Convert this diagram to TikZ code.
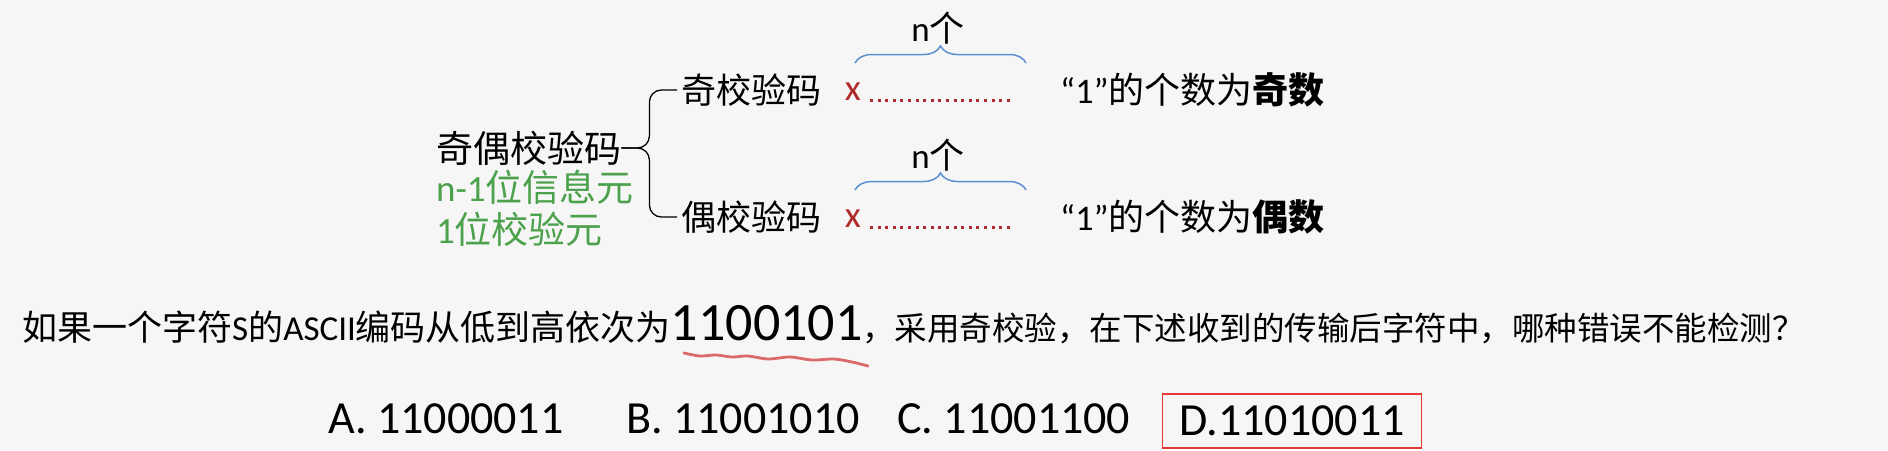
\documentclass[tikz,border=0pt]{standalone}
\usepackage{fontspec}
\setmainfont{Noto Sans CJK SC}
\newfontfamily\lat{Carlito}
\usetikzlibrary{positioning,decorations.pathreplacing}
\definecolor{bggray}{HTML}{F6F6F6}
\definecolor{infogreen}{HTML}{4CA24C}
\definecolor{darkred}{HTML}{B02A2A}
\definecolor{braceblue}{HTML}{5B8FCF}
\definecolor{boxred}{HTML}{E53935}
\definecolor{penred}{HTML}{DB6B69}

\begin{document}
\begin{tikzpicture}[x=1pt,y=1pt]
    \tikzstyle{every node}=[inner sep=0,anchor=west,font=\fontsize{35}{40}\selectfont]
    \tikzstyle{big}=[font=\fontsize{37}{42}\selectfont]
    \tikzstyle{info}=[big,text=infogreen]
    \tikzstyle{redx}=[text=darkred,anchor=center,font=\lat\fontsize{37}{40}\selectfont]
    \tikzstyle{dots}=[draw=darkred,line width=3pt,dash pattern=on 3pt off 4.6pt]
    \tikzstyle{nbrace}=[draw=braceblue,line width=1.5pt,decorate,decoration={brace,amplitude=17pt}]
    \tikzstyle{bbrace}=[draw=black,line width=1.3pt,rounded corners=12,shorten >=4pt]
    \tikzstyle{opt}=[font=\lat\fontsize{46}{50}\selectfont]
    {
        \fill[bggray] (0,0) rectangle (1888,-450);

        % left part
        \node[big] (parity) at (436,-148) {奇偶校验码};
        \node[info] (info1) at (436,-187) {{\lat n-1}位信息元};
        \node[info] (info2) at (436,-229) {{\lat 1}位校验元};

        \node (odd) at (681,-90) {奇校验码};
        \node (even) at (681,-217) {偶校验码};

        \draw[bbrace] (parity.east) -| ([xshift=28]parity.east |- odd.west) -- (odd.west);
        \draw[bbrace] (parity.east) -| ([xshift=28]parity.east |- even.west) -- (even.west);

        % odd row
        \node[redx] (xo) at (853,-92) {x};
        \coordinate (do1) at (870,-100);
        \coordinate (do2) at (1013,-100);
        \draw[dots] (do1) -- (do2);
        \draw[nbrace] (855,-63) -- (1026,-63);
        \node[anchor=center] (nodd) at (938,-28) {{\lat n}个};
        \node[font=\fontsize{36}{40}\selectfont] (onum) at (1060,-90) {{\lat “1”}的个数为\textbf{奇数}};

        % even row
        \node[redx] (xe) at (853,-219) {x};
        \coordinate (de1) at (870,-227);
        \coordinate (de2) at (1013,-227);
        \draw[dots] (de1) -- (de2);
        \draw[nbrace] (855,-190) -- (1026,-190);
        \node[anchor=center] (neven) at (938,-155) {{\lat n}个};
        \node[font=\fontsize{36}{40}\selectfont] (enum) at (1060,-217) {{\lat “1”}的个数为\textbf{偶数}};

        % question
        \node (question) at (22,-325) {\fontsize{35}{40}\selectfont 如果一个字符{\lat S}的{\lat ASCII}编码从低到高依次为{\lat\fontsize{54}{54}\selectfont 1100101}\fontsize{32.5}{38}\selectfont ，采用奇校验，在下述收到的传输后字符中，哪种错误不能检测？};
        \draw[penred,line width=2.8pt,line cap=round] plot[smooth] coordinates {(684,-353) (700,-356) (716,-355) (732,-357) (748,-356) (768,-359) (790,-357) (812,-360) (834,-359) (852,-362) (868,-366)};

        \node[opt] (optA) at (328,-419) {A. 11000011};
        \node[opt] (optB) at (626,-419) {B. 11001010};
        \node[opt] (optC) at (897,-419) {C. 11001100};
        \node[opt,draw=boxred,line width=1.2pt,minimum width=259pt,minimum height=54pt] (optD) at (1162,-421) {D.11010011};
    }
\end{tikzpicture}
\end{document}
